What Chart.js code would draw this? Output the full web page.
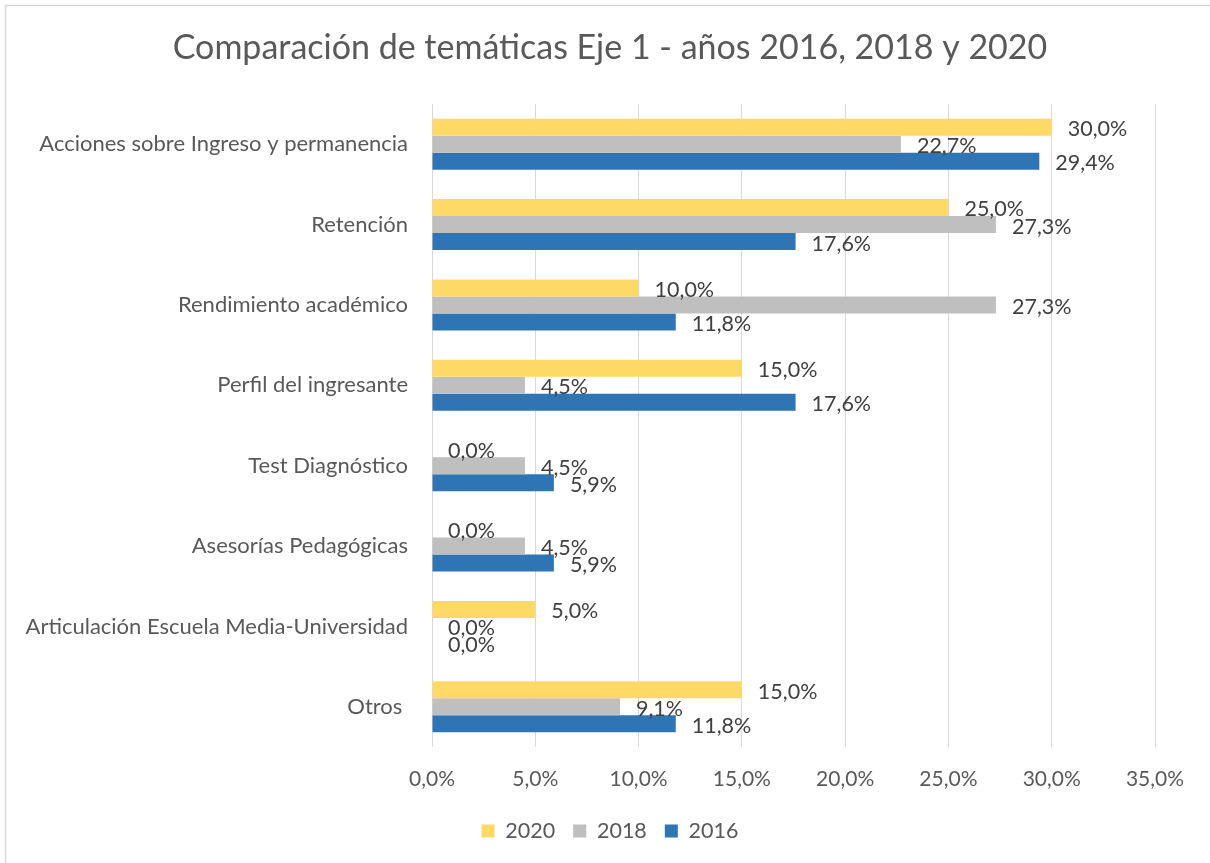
<!DOCTYPE html>
<html>
<head>
<meta charset="utf-8">
<script src="https://cdn.jsdelivr.net/npm/chart.js@4/dist/chart.umd.min.js"></script>
<style>
  html, body { margin: 0; padding: 0; background: #fff; }
  #wrap { width: 1210px; height: 863px; position: relative; }
</style>
</head>
<body>
<div id="wrap"><canvas id="temasChart" width="1210" height="863"></canvas></div>
<script>
const FONT = 'Lato, "Noto Sans", sans-serif';

const categories = [
  'Acciones sobre Ingreso y permanencia',
  'Retención',
  'Rendimiento académico',
  'Perfil del ingresante',
  'Test Diagnóstico',
  'Asesorías Pedagógicas',
  'Articulación Escuela Media-Universidad',
  'Otros '
];
const years = ['2020', '2018', '2016'];
const values2020 = [30.0, 25.0, 10.0, 15.0, 0.0, 0.0, 5.0, 15.0];
const values2018 = [22.7, 27.3, 27.3, 4.5, 4.5, 4.5, 0.0, 9.1];
const values2016 = [29.4, 17.6, 11.8, 17.6, 5.9, 5.9, 0.0, 11.8];
const xTicks = [0, 5, 10, 15, 20, 25, 30, 35];

const colors = ['#FFD966', '#BFBFBF', '#2E75B6'];

function pct(v) {
  return v.toFixed(1).replace('.', ',') + '%';
}

// thin frame on top/left like the exported picture
const framePlugin = {
  id: 'frame',
  beforeDraw(chart) {
    const ctx = chart.ctx;
    ctx.save();
    ctx.fillStyle = '#fff';
    ctx.fillRect(0, 0, chart.width, chart.height);
    ctx.strokeStyle = '#d9d9d9';
    ctx.lineWidth = 1.5;
    ctx.strokeRect(5.5, 5.5, chart.width + 10, chart.height + 10);
    ctx.restore();
  }
};

// value labels just past the bar ends
const valueLabels = {
  id: 'valueLabels',
  afterDatasetsDraw(chart) {
    const ctx = chart.ctx;
    ctx.save();
    ctx.font = '21.5px ' + FONT;
    ctx.fillStyle = '#404040';
    ctx.textAlign = 'left';
    ctx.textBaseline = 'middle';
    chart.data.datasets.forEach((ds, i) => {
      chart.getDatasetMeta(i).data.forEach((bar, j) => {
        ctx.fillText(pct(ds.data[j]), bar.x + 16, bar.y + 2);
      });
    });
    ctx.restore();
  }
};

const ctx = document.getElementById('temasChart').getContext('2d');
new Chart(ctx, {
  type: 'bar',
  data: {
    labels: categories,
    datasets: [
      { label: years[0], data: values2020, backgroundColor: colors[0] },
      { label: years[1], data: values2018, backgroundColor: colors[1] },
      { label: years[2], data: values2016, backgroundColor: colors[2] }
    ]
  },
  options: {
    indexAxis: 'y',
    responsive: false,
    animation: false,
    devicePixelRatio: 1,
    categoryPercentage: 0.635,
    barPercentage: 1.0,
    layout: { padding: { left: 10, right: 0, top: 0, bottom: 11.25 } },
    scales: {
      x: {
        min: 0,
        max: 35,
        afterBuildTicks(scale) {
          scale.ticks = xTicks.map(v => ({ value: v }));
        },
        afterFit(scale) { scale.height = 55.25; },
        grid: { color: '#d9d9d9', lineWidth: 1, drawTicks: false },
        border: { display: false },
        ticks: {
          padding: 20,
          color: '#595959',
          font: { family: FONT, size: 21 },
          callback: v => pct(v)
        }
      },
      y: {
        afterFit(scale) { scale.width = 432 - 10; },
        grid: { display: false, drawTicks: false },
        border: { display: false },
        ticks: {
          padding: 24,
          color: '#595959',
          font: { family: FONT, size: 22 }
        }
      },
      // empty right-hand gutter so title and legend stay centred on the page
      gutter: {
        type: 'category',
        position: 'right',
        afterFit(scale) { scale.width = 55; },
        grid: { display: false, drawTicks: false },
        border: { display: false },
        ticks: { display: false }
      }
    },
    plugins: {
      title: {
        display: true,
        text: 'Comparación de temáticas Eje 1 - años 2016, 2018 y 2020',
        color: '#595959',
        font: { family: FONT, size: 34, weight: 'normal' },
        padding: { top: 27.6, bottom: 35.6 }
      },
      legend: {
        position: 'bottom',
        labels: {
          boxWidth: 13,
          boxHeight: 13,
          padding: 18,
          color: '#595959',
          font: { family: FONT, size: 21.5 }
        }
      },
      tooltip: { enabled: false }
    }
  },
  plugins: [framePlugin, valueLabels]
});
</script>
</body>
</html>
